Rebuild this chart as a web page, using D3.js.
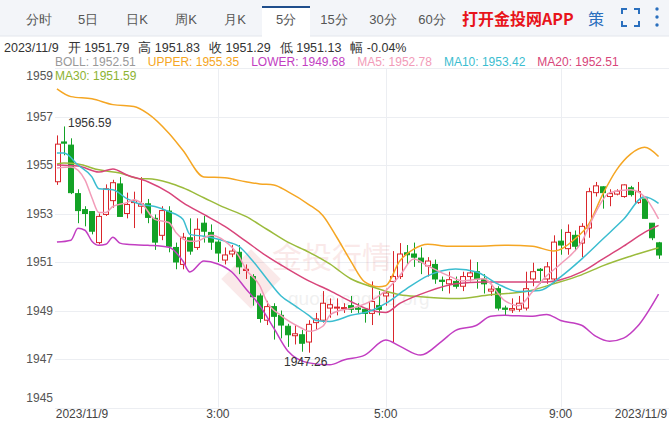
<!DOCTYPE html>
<html>
<head>
<meta charset="utf-8">
<script src="https://cdn.jsdelivr.net/npm/d3@7/dist/d3.min.js"></script>
<style>
  body { margin: 0; background: #fff; font-family: "Liberation Sans", Arial, sans-serif; }
</style>
</head>
<body>
<div id="chart"></div>
<script>
// candles: open, close, high, low (5 min, 2023/11/9)
var opens  = [1954.31,1955.95,1955.82,1953.82,1953.16,1953.08,1951.8,1952.96,1953.53,1954.22,1953.0,1953.45,1953.3,1953.4,1952.8,1952.1,1953.1,1951.6,1950.9,1952.0,1951.6,1952.6,1952.22,1951.82,1951.08,1951.33,1951.4,1950.65,1950.4,1949.6,1948.6,1949.16,1948.8,1948.35,1947.96,1948.0,1947.7,1948.5,1948.6,1949.1,1949.1,1949.08,1949.2,1949.1,1949.05,1948.88,1949.2,1949.6,1950.2,1950.4,1951.38,1951.33,1951.16,1950.84,1950.9,1950.25,1950.1,1950.2,1950.0,1950.4,1950.6,1950.3,1949.8,1949.9,1949.1,1949.02,1949.05,1949.1,1950.3,1950.7,1950.3,1950.3,1951.86,1951.55,1952.1,1951.78,1952.4,1953.86,1954.1,1953.7,1953.8,1953.7,1954.06,1953.45,1953.6,1952.6,1951.79];
var closes = [1955.86,1955.9,1953.86,1953.12,1953.0,1952.27,1952.88,1954.02,1954.27,1952.88,1953.37,1953.53,1953.4,1952.84,1951.82,1953.12,1951.65,1951.0,1952.02,1951.45,1952.35,1952.27,1951.82,1951.37,1951.29,1951.45,1950.8,1950.7,1949.57,1948.67,1949.16,1948.76,1948.4,1948.0,1948.04,1947.65,1948.43,1948.65,1949.3,1949.24,1949.14,1949.12,1949.05,1949.05,1948.88,1949.37,1949.05,1949.72,1950.4,1951.33,1951.3,1951.2,1951.0,1951.04,1950.3,1950.2,1950.27,1950.0,1950.4,1950.55,1950.3,1950.1,1949.88,1949.1,1949.05,1949.08,1949.3,1949.9,1950.6,1950.65,1950.8,1951.82,1951.7,1952.22,1951.65,1952.47,1953.9,1954.14,1953.86,1953.82,1953.92,1954.18,1953.78,1953.9,1952.8,1952.0,1951.29];
var highs  = [1956.22,1956.59,1956.1,1954.0,1953.3,1953.1,1953.0,1954.2,1954.39,1954.5,1953.86,1953.9,1954.5,1953.6,1952.96,1953.3,1953.3,1951.8,1952.2,1952.8,1952.8,1952.9,1952.55,1951.9,1951.6,1951.7,1951.7,1950.9,1950.5,1949.7,1949.4,1949.3,1949.0,1948.45,1948.4,1948.2,1948.6,1948.9,1949.8,1949.5,1949.5,1949.3,1949.6,1949.3,1949.1,1950.2,1949.8,1949.9,1951.45,1951.78,1951.7,1951.8,1951.6,1951.2,1951.1,1950.4,1950.6,1950.4,1950.6,1951.1,1951.0,1950.5,1950.1,1950.0,1949.2,1949.5,1949.6,1950.6,1950.97,1950.75,1951.0,1952.1,1952.35,1952.55,1952.3,1952.6,1954.06,1954.3,1954.12,1954.0,1954.0,1954.2,1954.14,1954.3,1953.68,1952.6,1951.83];
var lows   = [1954.18,1955.4,1953.8,1952.6,1952.47,1952.14,1951.73,1952.9,1953.24,1952.88,1952.8,1952.4,1953.0,1952.6,1951.5,1951.9,1951.4,1950.7,1950.7,1951.3,1951.5,1951.8,1951.5,1951.0,1950.9,1951.2,1950.5,1950.3,1949.2,1948.5,1948.4,1947.8,1947.85,1947.5,1947.6,1947.3,1947.26,1948.2,1948.5,1948.7,1948.8,1948.9,1948.9,1948.9,1948.5,1948.4,1948.8,1949.2,1947.7,1950.3,1950.9,1950.8,1950.5,1950.4,1950.1,1949.8,1949.7,1949.9,1949.8,1950.2,1949.9,1949.7,1949.6,1949.0,1948.8,1948.9,1948.95,1949.0,1950.0,1950.1,1950.1,1950.1,1951.3,1951.3,1951.45,1951.2,1952.0,1953.7,1953.2,1953.3,1953.75,1953.65,1953.7,1953.4,1952.8,1951.9,1951.13];

// indicator lines, read at [candle index, value]
var upperLine = [[0,1958.14],[2,1957.82],[5,1957.73],[8,1957.49],[11,1957.41],[13,1957.12],[16,1956.31],[18,1955.61],[21,1954.51],[24,1954.47],[27,1954.31],[29,1954.22],[31,1954.18],[33,1953.9],[36,1953.37],[38,1952.92],[40,1952.02],[42,1951.04],[44,1950.18],[46,1949.98],[47,1950.02],[49,1951.04],[51,1951.53],[53,1951.73],[56,1951.65],[60,1951.65],[64,1951.69],[68,1951.65],[71,1951.45],[74,1951.94],[76,1952.55],[78,1953.78],[80,1954.8],[82,1955.45],[84,1955.73],[86,1955.35]];
var lowerLine = [[0,1951.82],[2,1951.9],[3,1952.39],[4,1952.31],[5,1951.86],[6,1951.69],[7,1951.73],[8,1952.02],[9,1951.78],[10,1951.73],[13,1951.69],[16,1951.61],[18,1951.04],[19,1950.59],[21,1951.04],[23,1950.92],[25,1950.59],[27,1949.9],[29,1949.2],[31,1948.27],[33,1947.33],[36,1946.84],[39,1946.76],[41,1946.96],[44,1947.16],[47,1947.78],[49,1947.53],[52,1947.16],[55,1947.73],[57,1948.18],[60,1948.39],[62,1948.76],[64,1948.8],[68,1948.76],[70,1948.84],[72,1948.59],[75,1948.39],[77,1947.94],[79,1947.73],[81,1947.86],[83,1948.35],[86,1949.68]];
var ma5Line = [[0,1954.88],[2,1954.92],[4,1954.39],[5,1953.65],[6,1953.04],[7,1953.04],[8,1953.29],[10,1953.45],[11,1953.57],[12,1953.45],[14,1952.76],[16,1952.63],[17,1952.22],[19,1951.86],[20,1951.86],[22,1952.1],[24,1951.86],[26,1951.24],[27,1950.71],[29,1950.02],[30,1949.37],[32,1948.8],[35,1948.27],[36,1948.14],[38,1948.35],[39,1948.8],[40,1948.96],[42,1949.08],[45,1949.41],[47,1949.82],[49,1950.43],[51,1951.12],[53,1950.84],[56,1950.43],[58,1950.22],[61,1950.31],[64,1949.41],[66,1949.2],[68,1949.78],[70,1950.43],[72,1950.92],[75,1951.82],[77,1953.04],[79,1953.86],[82,1953.98],[84,1953.69],[86,1952.78]];
var ma10Line = [[0,1955.49],[1,1955.49],[3,1955.0],[5,1954.51],[6,1954.02],[8,1953.98],[10,1953.61],[12,1953.37],[14,1953.29],[16,1953.08],[18,1952.76],[19,1952.14],[21,1952.06],[24,1951.86],[26,1951.65],[28,1951.04],[30,1950.31],[32,1949.61],[34,1949.2],[36,1948.8],[37,1948.59],[39,1948.55],[42,1948.8],[45,1949.0],[47,1949.29],[50,1949.9],[53,1950.43],[57,1950.71],[60,1950.59],[63,1950.1],[66,1949.78],[69,1949.82],[72,1950.39],[75,1951.12],[78,1951.94],[81,1952.76],[84,1953.69],[86,1953.42]];
var ma20Line = [[0,1955.0],[3,1954.96],[6,1954.71],[8,1954.84],[10,1954.59],[13,1954.31],[16,1953.86],[18,1953.45],[21,1952.96],[24,1952.47],[27,1951.86],[30,1951.24],[33,1950.71],[36,1950.22],[39,1949.82],[42,1949.37],[45,1949.0],[47,1948.92],[49,1949.29],[53,1949.78],[57,1950.1],[61,1950.18],[65,1950.18],[70,1950.18],[72,1950.27],[75,1950.59],[78,1951.12],[81,1951.65],[84,1952.22],[86,1952.51]];
var ma30Line = [[0,1955.04],[1,1955.08],[3,1955.04],[6,1954.8],[9,1954.67],[12,1954.43],[13,1954.43],[16,1954.27],[18,1954.06],[21,1953.65],[24,1953.24],[27,1952.88],[30,1952.35],[33,1951.82],[36,1951.41],[39,1950.92],[42,1950.31],[45,1949.98],[49,1949.65],[52,1949.57],[57,1949.49],[62,1949.65],[67,1949.78],[71,1950.1],[75,1950.47],[78,1950.84],[82,1951.24],[86,1951.59]];

var yTicks = [1959, 1957, 1955, 1953, 1951, 1949, 1947, 1945];
var xTicks = [[0, "2023/11/9"], [23, "3:00"], [47, "5:00"], [72, "9:00"], [86, "2023/11/9"]];
var tabs = ["分时", "5日", "日K", "周K", "月K", "5分", "15分", "30分", "60分"];
var info = ["2023/11/9", "开 1951.79", "高 1951.83", "收 1951.29", "低 1951.13", "幅 -0.04%"];
var legend = [["BOLL: 1952.51", "#999"], ["UPPER: 1955.35", "#f5a623"], ["LOWER: 1949.68", "#c23ec2"],
              ["MA5: 1952.78", "#f29bb8"], ["MA10: 1953.42", "#3bbdd0"], ["MA20: 1952.51", "#d8457a"]];

var W = 669, H = 423;
var svg = d3.select("#chart").append("svg").attr("width", W).attr("height", H)
  .style("font-family", "'Liberation Sans', Arial, sans-serif");

// tab bar
svg.append("rect").attr("x", 0).attr("y", 0).attr("width", W).attr("height", 36).attr("fill", "#f3f5f9");
svg.append("line").attr("x1", 0).attr("x2", W).attr("y1", 36).attr("y2", 36).attr("stroke", "#e3e6ec");
var tabX = [39, 88, 137, 186, 235, 286, 334, 383, 432];
svg.append("rect").attr("x", 262).attr("y", 6).attr("width", 48).attr("height", 31).attr("fill", "#fff");
svg.append("rect").attr("x", 262).attr("y", 6).attr("width", 48).attr("height", 2).attr("fill", "#1f4e8c");
svg.selectAll(".tab").data(tabs).enter().append("text")
  .attr("x", function(d, i) { return tabX[i]; }).attr("y", 24)
  .attr("text-anchor", "middle").attr("font-size", 13).attr("fill", "#555")
  .text(function(d) { return d; });
svg.append("text").attr("x", 462).attr("y", 25).attr("font-size", 16).attr("font-weight", "bold")
  .attr("fill", "#e8141b").style("font-family", "'Noto Sans CJK SC', sans-serif").text("打开金投网APP");
svg.append("text").attr("x", 588).attr("y", 25).attr("font-size", 16).attr("fill", "#2a6fbe")
  .style("font-family", "'Noto Sans CJK SC', sans-serif").text("策");
svg.append("path").attr("d", "M622,14v-5h5 M634,9h5v5 M639,21v5h-5 M627,26h-5v-5")
  .attr("fill", "none").attr("stroke", "#2a6fbe").attr("stroke-width", 2);
[9, 17, 25].forEach(function(yy) {
  svg.append("circle").attr("cx", 657).attr("cy", yy).attr("r", 1.7).attr("fill", "#2a6fbe");
});

// info lines
var ix = 4;
info.forEach(function(s) {
  var t = svg.append("text").attr("x", ix).attr("y", 52).attr("font-size", 12.5).attr("fill", "#333").text(s);
  ix += t.node().getComputedTextLength() + 9;
});
var lx = 55;
legend.forEach(function(l) {
  var t = svg.append("text").attr("x", lx).attr("y", 66).attr("font-size", 12).attr("fill", l[1]).text(l[0]);
  lx += t.node().getComputedTextLength() + 12;
});

var x = d3.scaleBand().domain(d3.range(opens.length)).range([54.5, 661]).paddingInner(0.3);
var y = d3.scaleLinear().domain([1945, 1959]).range([407.5, 68]);
var cx = function(i) { return x(i) + x.bandwidth() / 2; };

// grid
svg.selectAll(".hg").data(yTicks).enter().append("line")
  .attr("x1", 55).attr("x2", W).attr("y1", function(d) { return Math.round(y(d)) + 0.5; })
  .attr("y2", function(d) { return Math.round(y(d)) + 0.5; }).attr("stroke", "#eceef2");
svg.selectAll(".vg").data(xTicks.slice(1, 4)).enter().append("line")
  .attr("x1", function(d) { return Math.round(cx(d[0])) + 0.5; }).attr("x2", function(d) { return Math.round(cx(d[0])) + 0.5; })
  .attr("y1", 68).attr("y2", 407.5).attr("stroke", "#eceef2");
svg.selectAll(".yl").data(yTicks).enter().append("text")
  .attr("x", 53).attr("text-anchor", "end").attr("font-size", 12).attr("fill", "#555")
  .attr("y", function(d) { return Math.min(Math.max(y(d), 76), 398) + 4; })
  .text(function(d) { return d; });
svg.append("text").attr("x", 55).attr("y", 80).attr("font-size", 12).attr("fill", "#8cb332").text("MA30: 1951.59");
svg.selectAll(".xl").data(xTicks).enter().append("text")
  .attr("x", function(d) { return d[0] === 86 ? 641 : d[0] === 0 ? 82 : cx(d[0]); })
  .attr("y", 418).attr("text-anchor", "middle").attr("font-size", 12).attr("fill", "#444")
  .text(function(d) { return d[1]; });

// watermark
var wm = svg.append("g").attr("opacity", 0.1);
wm.append("rect").attr("x", 230).attr("y", 258).attr("width", 42).attr("height", 42)
  .attr("transform", "rotate(45 251 279)").attr("fill", "#d32f2f");
wm.append("text").attr("x", 272).attr("y", 268).attr("font-size", 30).attr("fill", "#d32f2f")
  .style("font-family", "'Noto Sans CJK SC', sans-serif").text("金投行情");
wm.append("text").attr("x", 288).attr("y", 305).attr("font-size", 19).attr("fill", "#777").text("quote.cngold.org");

// candles
var up = function(i) { return closes[i] >= opens[i]; };
var candles = svg.selectAll(".c").data(d3.range(opens.length)).enter().append("g");
candles.append("line")
  .attr("x1", function(i) { return Math.round(cx(i)) + 0.5; }).attr("x2", function(i) { return Math.round(cx(i)) + 0.5; })
  .attr("y1", function(i) { return y(highs[i]); }).attr("y2", function(i) { return y(lows[i]); })
  .attr("stroke", function(i) { return up(i) ? "#d9262b" : "#13a226"; });
candles.append("rect")
  .attr("x", function(i) { return Math.round(x(i)) + 0.5; }).attr("width", Math.round(x.bandwidth()))
  .attr("y", function(i) { return y(Math.max(opens[i], closes[i])); })
  .attr("height", function(i) { return Math.max(1, Math.abs(y(opens[i]) - y(closes[i]))); })
  .attr("fill", function(i) { return up(i) ? "#fff" : "#13a226"; })
  .attr("stroke", function(i) { return up(i) ? "#d9262b" : "#13a226"; });

// lines
var line = d3.line().x(function(d) { return cx(d[0]); }).y(function(d) { return y(d[1]); }).curve(d3.curveMonotoneX);
[[upperLine, "#f5a623"], [lowerLine, "#c23ec2"], [ma30Line, "#9bbb3c"], [ma20Line, "#d8457a"],
 [ma10Line, "#3bbdd0"], [ma5Line, "#f29bb8"]].forEach(function(s) {
  svg.append("path").datum(s[0]).attr("fill", "none").attr("stroke", s[1]).attr("stroke-width", 1.5).attr("d", line);
});

// high / low labels
svg.append("text").attr("x", 68).attr("y", 127).attr("font-size", 12).attr("fill", "#333").text("1956.59");
svg.append("text").attr("x", 284).attr("y", 366).attr("font-size", 12).attr("fill", "#333").text("1947.26");
</script>
</body>
</html>
